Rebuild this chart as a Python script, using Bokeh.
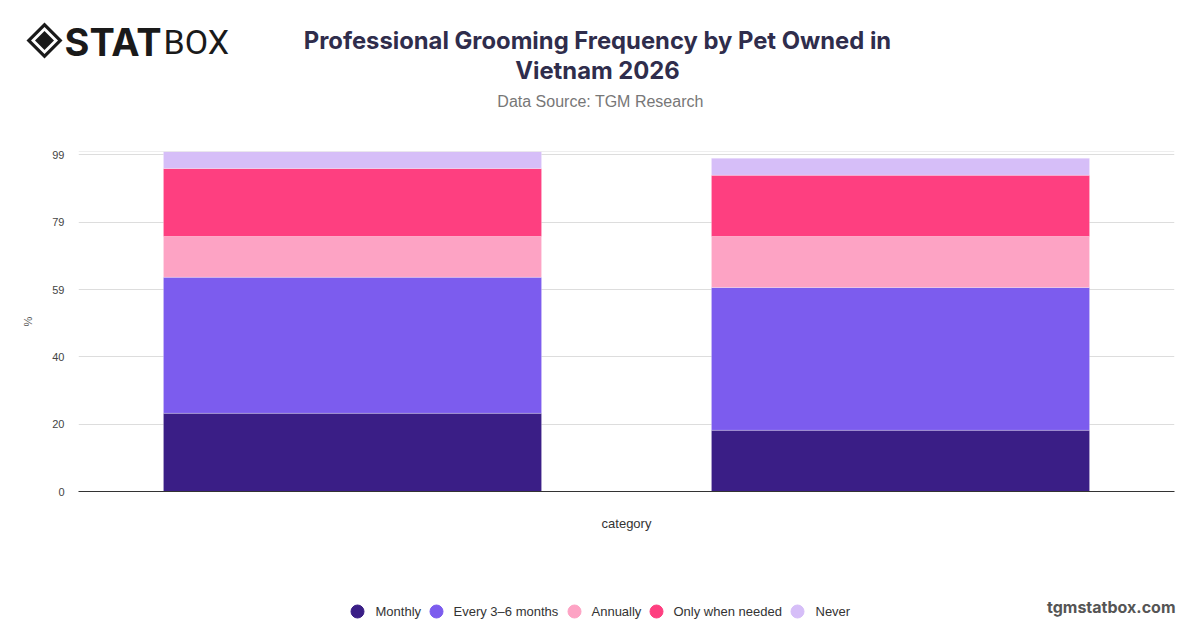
from bokeh.plotting import figure
from bokeh.models import Range1d, FactorRange, FixedTicker, Span, ColumnDataSource
from bokeh.layouts import column
from bokeh.core.properties import value
from bokeh.embed import file_html
from bokeh.resources import INLINE

# ---- data ----
categories = ["Dog", "Cat"]
series = ["Monthly", "Every 3–6 months", "Annually", "Only when needed", "Never"]
monthly = [23, 18]
every_3_6 = [40, 42]
annually = [12, 15]
only_when_needed = [20, 18]
never = [5, 5]
colors = ["#3a1e86", "#7c5cee", "#fda3c4", "#fe3f80", "#d6bef8"]
tick_values = [0, 19.8, 39.6, 59.4, 79.2, 99]
tick_labels = ["0", "20", "40", "59", "79", "99"]

title_lines = ["Professional Grooming Frequency by Pet Owned in", "Vietnam 2026"]
subtitle = "Data Source: TGM Research"
watermark = "tgmstatbox.com"

W = 1200
HEAD_H, MAIN_H, FOOT_H = 140, 400, 88


def no_align(f):
    if "frame_align" in f.properties():
        f.frame_align = False
    return f


def blank(height):
    f = figure(width=W, height=height, x_range=Range1d(0, W), y_range=Range1d(height, 0),
               x_axis_type=None, y_axis_type=None, output_backend="svg",
               toolbar_location=None, min_border=0)
    f.outline_line_color = None
    f.xgrid.grid_line_color = None
    f.ygrid.grid_line_color = None
    return no_align(f)


# ---- header: logo, title, subtitle ----
head = blank(HEAD_H)
cx, cy = 44, 40
for r, c in [(18, "#1a1a1a"), (13.5, "white"), (9.5, "#1a1a1a")]:
    head.patch([cx - r, cx, cx + r, cx], [cy, cy - r, cy, cy + r], fill_color=c, line_color=None)
head.text(x=[64], y=[41], text=["STAT"], text_font=value("Inter"), text_font_size="38px",
          text_font_style="bold", text_color="#1a1a1a", text_baseline="middle", text_align="left")
head.text(x=[163], y=[41], text=["BOX"], text_font=value("Roboto"), text_font_size="34px",
          text_color="#1a1a1a", text_baseline="middle", text_align="left")
head.text(x=[597, 597], y=[40, 70], text=title_lines, text_font=value("Inter"),
          text_font_size="23.8px", text_font_style="bold", text_color="#2f2d4c",
          text_baseline="middle", text_align="center")
head.text(x=[600], y=[101], text=[subtitle], text_font=value("Liberation Sans"),
          text_font_size="16px", text_color="#777777", text_baseline="middle",
          text_align="center")

# ---- main chart ----
source = ColumnDataSource(dict(cat=categories, **{
    series[0]: monthly, series[1]: every_3_6, series[2]: annually,
    series[3]: only_when_needed, series[4]: never}))

p = figure(width=W, height=MAIN_H, x_range=FactorRange(*categories), y_range=Range1d(0, 100),
           output_backend="svg", toolbar_location=None,
           min_border_left=78, min_border_right=26, min_border_top=11, min_border_bottom=49)
no_align(p)
p.outline_line_color = None

p.vbar_stack(series, x="cat", width=0.69, color=colors, source=source,
             line_color="white", line_alpha=0.25, line_width=1)

p.yaxis.ticker = FixedTicker(ticks=tick_values)
p.yaxis.major_label_overrides = dict(zip(tick_values, tick_labels))
p.yaxis.axis_line_color = None
p.yaxis.major_tick_line_color = None
p.yaxis.minor_tick_line_color = None
p.yaxis.major_label_text_font = "Liberation Sans"
p.yaxis.major_label_text_font_size = "11px"
p.yaxis.major_label_text_color = "#444444"
p.yaxis.major_label_standoff = 8
p.yaxis.axis_label = "%"
p.yaxis.axis_label_text_font = "Liberation Sans"
p.yaxis.axis_label_text_font_size = "11px"
p.yaxis.axis_label_text_font_style = "normal"
p.yaxis.axis_label_text_color = "#555555"
p.yaxis.axis_label_standoff = 15

p.xaxis.axis_line_color = "#333333"
p.xaxis.axis_line_width = 1
p.xaxis.major_tick_line_color = None
p.xaxis.minor_tick_line_color = None
p.xaxis.major_label_text_font_size = "0px"
p.xaxis.major_label_text_alpha = 0
p.xaxis.axis_label = "category"
p.xaxis.axis_label_text_font = "Liberation Sans"
p.xaxis.axis_label_text_font_size = "13px"
p.xaxis.axis_label_text_font_style = "normal"
p.xaxis.axis_label_text_color = "#333333"
p.xaxis.axis_label_standoff = 18

p.xgrid.grid_line_color = None
p.ygrid.grid_line_color = "#dddddd"
p.ygrid.grid_line_width = 1
p.add_layout(Span(location=100, dimension="width", line_color="#dddddd", line_width=1))

# ---- footer: legend and watermark ----
foot = blank(FOOT_H)
legend_marker_x = [357, 436, 574, 656, 797]
legend_text_x = [375, 453, 591, 673, 815]
legend_y = 71
foot.scatter(x=legend_marker_x, y=[legend_y] * len(series), marker="circle", size=13,
             fill_color=colors, line_color=colors)
foot.text(x=legend_text_x, y=[legend_y] * len(series), text=series,
          text_font=value("Liberation Sans"), text_font_size="13px", text_color="#333333",
          text_baseline="middle", text_align="left")
foot.text(x=[1175], y=[66], text=[watermark], text_font=value("Inter"), text_font_size="16px",
          text_font_style="bold", text_color="#555555", text_baseline="middle", text_align="right")

layout = column(head, p, foot, spacing=0)
open("out.html", "w").write(file_html(layout, INLINE))
